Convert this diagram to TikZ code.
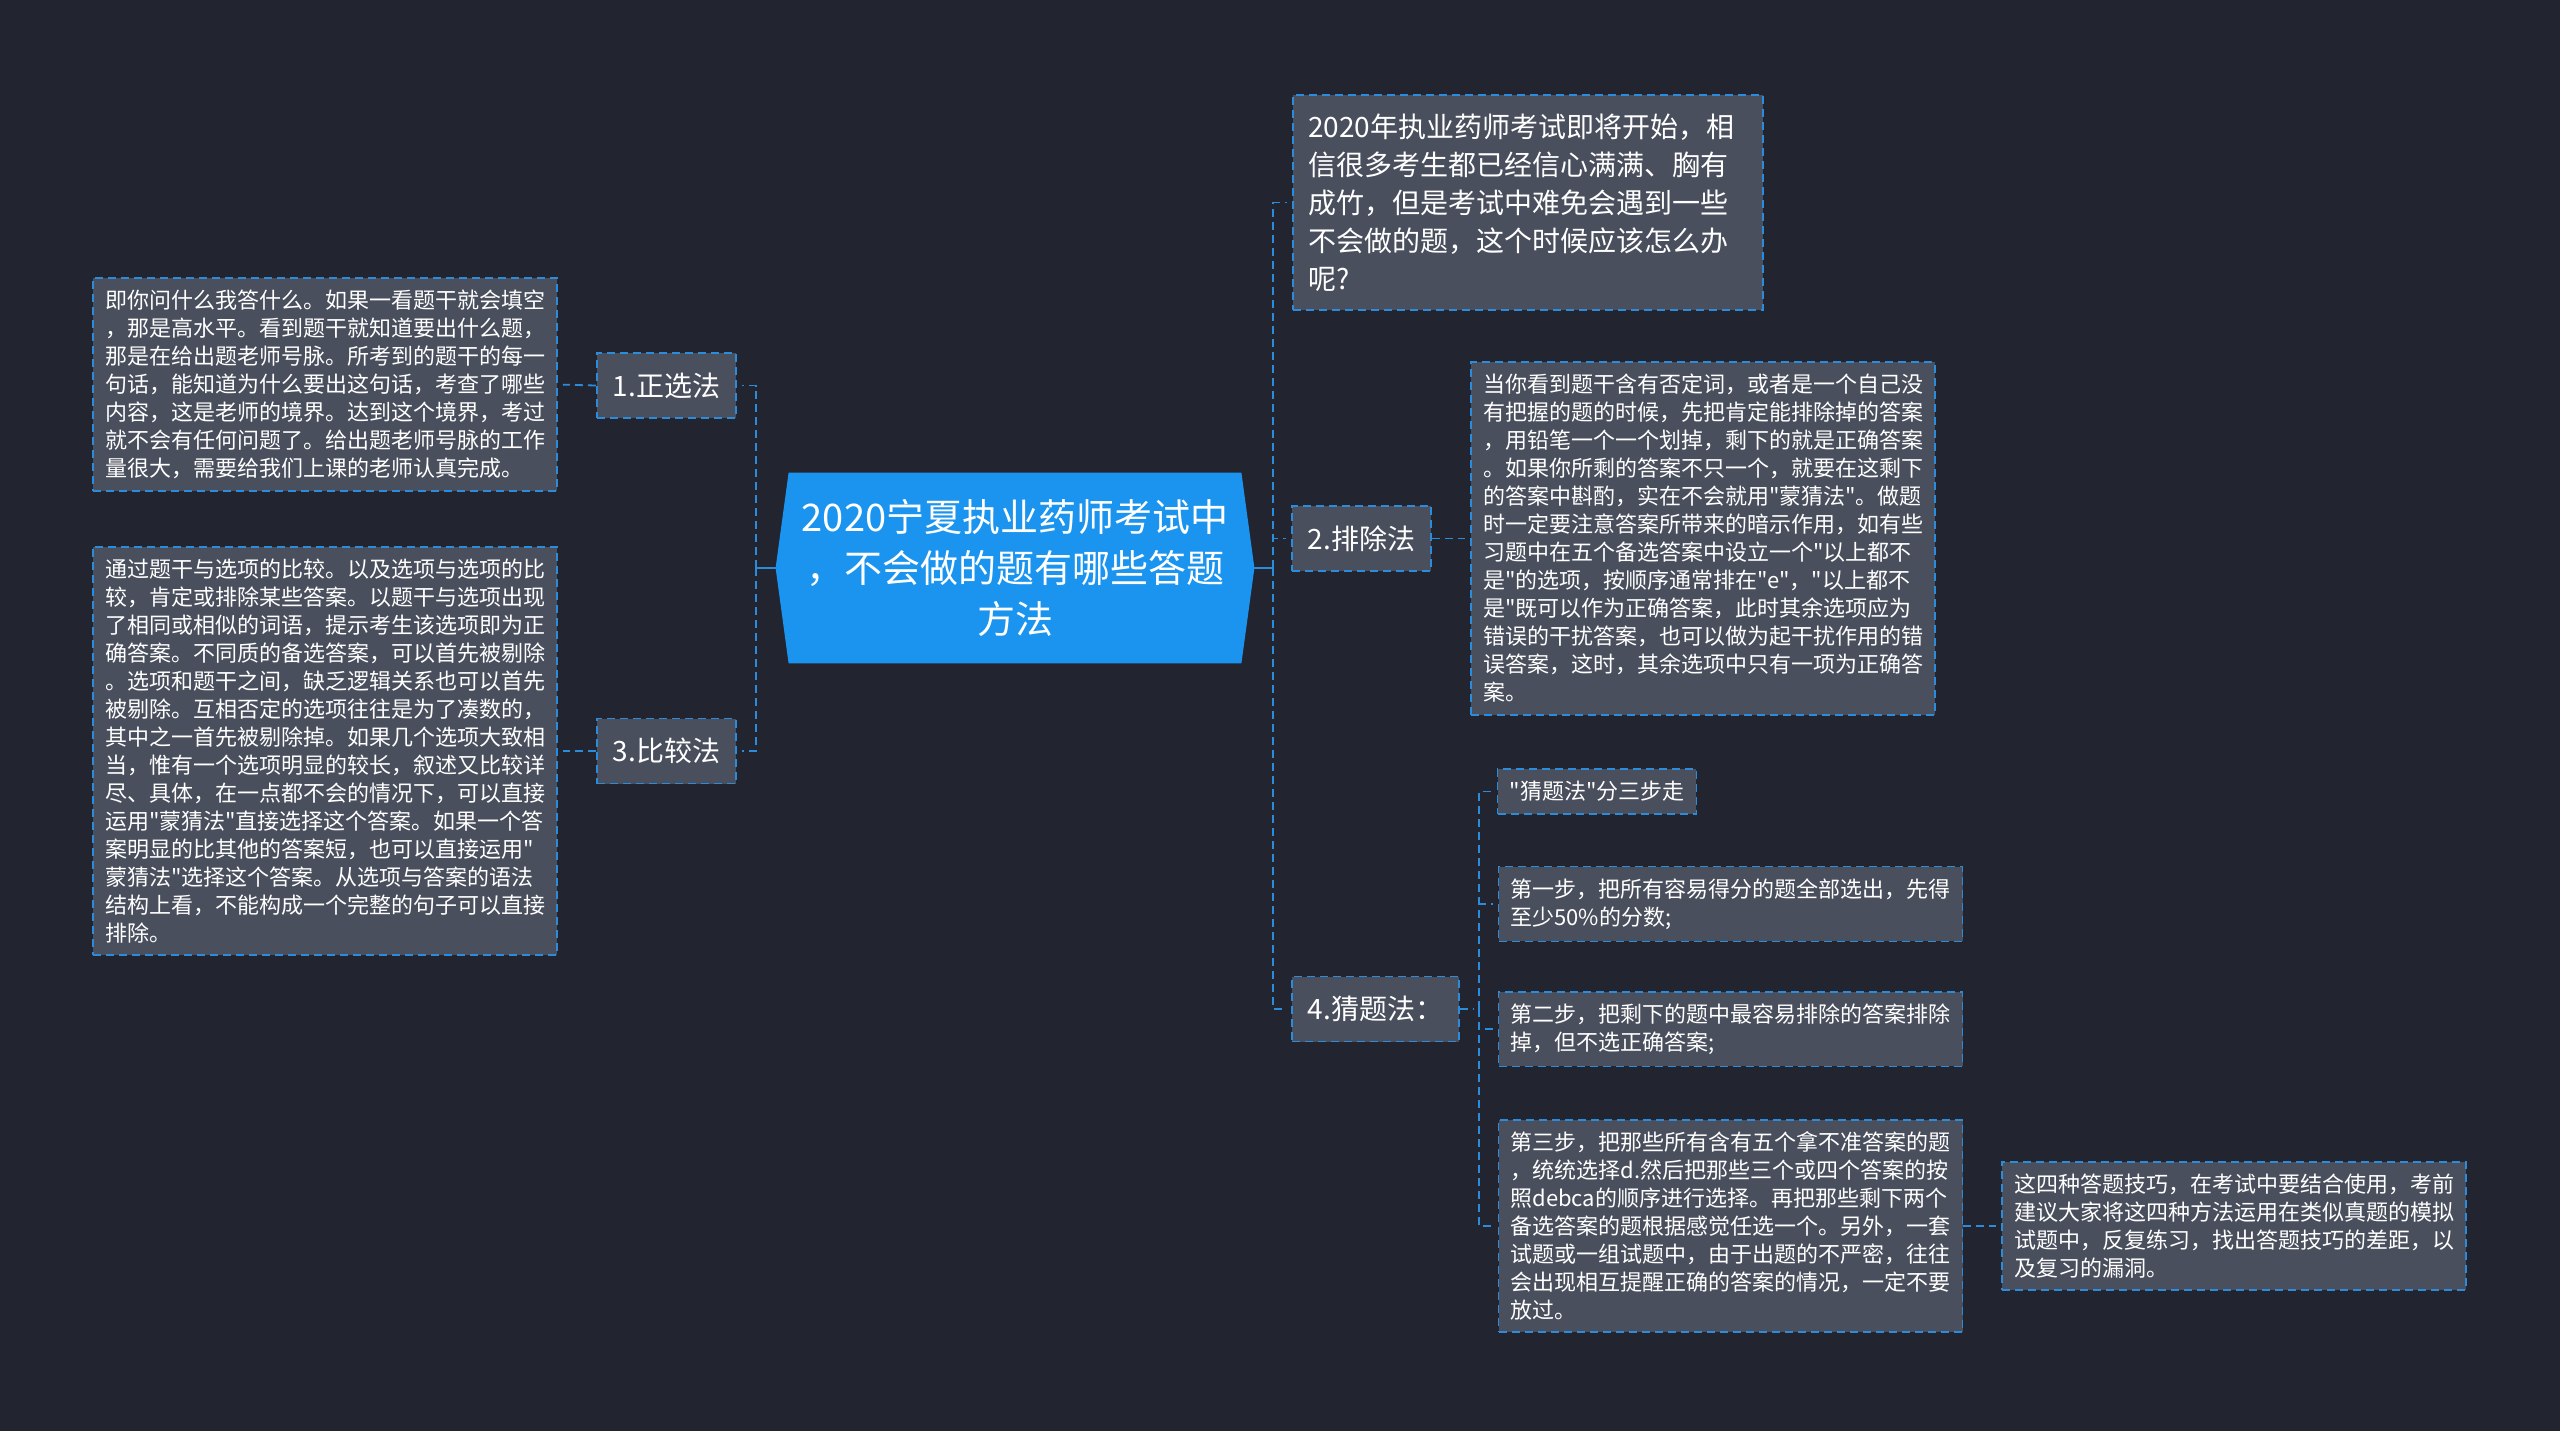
\documentclass[tikz,border=0pt]{standalone}
\usepackage{fontspec}
\setmainfont{Noto Sans CJK SC}[Ligatures=TeXOff]
\usepackage{xcolor}
\usepackage{tikz}
\usetikzlibrary{backgrounds}
\definecolor{canvas}{HTML}{22252F}
\definecolor{boxfill}{HTML}{4A4F5D}
\definecolor{edgeblue}{HTML}{2B8CDB}
\definecolor{rootblue}{HTML}{1A94EE}
\tikzset{
  card/.style={draw=edgeblue, fill=boxfill, dash pattern=on 4pt off 2.5pt,
               line width=0.9pt, text=white, align=left,
               inner xsep=6pt, inner ysep=6pt, font=\fontsize{11}{14}\selectfont},
  leaf/.style={card, text width=220pt},
  branch/.style={card, inner xsep=8pt, inner ysep=0pt, minimum height=32.5pt,
                 font=\fontsize{14}{17}\selectfont},
  topic/.style={text=white, align=center, minimum width=226pt, minimum height=95pt,
                inner sep=0pt, font=\fontsize{19}{25.5}\selectfont},
  link/.style={draw=edgeblue, line width=0.9pt, dash pattern=on 4pt off 2.5pt,
               shorten >=2.5pt},
  trunk/.style={draw=edgeblue, line width=1.2pt},
}

\begin{document}
\begin{tikzpicture}[x=0.5pt, y=-0.5pt]
  \useasboundingbox (0,0) rectangle (2560,1431);
  \begin{scope}[on background layer]
    \fill[canvas] (0,0) rectangle (2560,1431);
  \end{scope}
  % centre
  \node[topic] (root) at (1015,568) {2020宁夏执业药师考试中\\，不会做的题有哪些答题\\方法};
  % left side
  \node[branch] (zx) at (666.5,385.5) {1.正选法};
  \node[branch] (bj) at (666.5,751)   {3.比较法};
  \node[leaf] (zxtext) at (325,384.5) {即你问什么我答什么。如果一看题干就会填空\\，那是高水平。看到题干就知道要出什么题，\\那是在给出题老师号脉。所考到的题干的每一\\句话，能知道为什么要出这句话，考查了哪些\\内容，这是老师的境界。达到这个境界，考过\\就不会有任何问题了。给出题老师号脉的工作\\量很大，需要给我们上课的老师认真完成。};
  \node[leaf] (bjtext) at (325,751) {通过题干与选项的比较。以及选项与选项的比\\较，肯定或排除某些答案。以题干与选项出现\\了相同或相似的词语，提示考生该选项即为正\\确答案。不同质的备选答案，可以首先被剔除\\。选项和题干之间，缺乏逻辑关系也可以首先\\被剔除。互相否定的选项往往是为了凑数的，\\其中之一首先被剔除掉。如果几个选项大致相\\当，惟有一个选项明显的较长，叙述又比较详\\尽、具体，在一点都不会的情况下，可以直接\\运用"蒙猜法"直接选择这个答案。如果一个答\\案明显的比其他的答案短，也可以直接运用"\\蒙猜法"选择这个答案。从选项与答案的语法\\结构上看，不能构成一个完整的句子可以直接\\排除。};
  % right side
  \node[card, inner xsep=7.5pt, text width=220pt, minimum height=107.5pt,
        font=\fontsize{14}{19}\selectfont]
    (intro) at (1528,202.5) {2020年执业药师考试即将开始，相\\信很多考生都已经信心满满、胸有\\成竹，但是考试中难免会遇到一些\\不会做的题，这个时候应该怎么办\\呢?};
  \node[branch] (pc) at (1361.5,538.5) {2.排除法};
  \node[leaf] (pctext) at (1703,538.5) {当你看到题干含有否定词，或者是一个自己没\\有把握的题的时候，先把肯定能排除掉的答案\\，用铅笔一个一个划掉，剩下的就是正确答案\\。如果你所剩的答案不只一个，就要在这剩下\\的答案中斟酌，实在不会就用"蒙猜法"。做题\\时一定要注意答案所带来的暗示作用，如有些\\习题中在五个备选答案中设立一个"以上都不\\是"的选项，按顺序通常排在"e"，"以上都不\\是"既可以作为正确答案，此时其余选项应为\\错误的干扰答案，也可以做为起干扰作用的错\\误答案，这时，其余选项中只有一项为正确答\\案。};
  \node[branch] (ct) at (1375.5,1009) {4.猜题法：};
  \node[card] (step0) at (1597,791.5) {"猜题法"分三步走};
  \node[leaf] (step1) at (1730.5,904) {第一步，把所有容易得分的题全部选出，先得\\至少50\%的分数;};
  \node[leaf] (step2) at (1730.5,1029) {第二步，把剩下的题中最容易排除的答案排除\\掉，但不选正确答案;};
  \node[leaf] (step3) at (1730.5,1226) {第三步，把那些所有含有五个拿不准答案的题\\，统统选择d.然后把那些三个或四个答案的按\\照debca的顺序进行选择。再把那些剩下两个\\备选答案的题根据感觉任选一个。另外，一套\\试题或一组试题中，由于出题的不严密，往往\\会出现相互提醒正确的答案的情况，一定不要\\放过。};
  \node[leaf] (advice) at (2234,1226) {这四种答题技巧，在考试中要结合使用，考前\\建议大家将这四种方法运用在类似真题的模拟\\试题中，反复练习，找出答题技巧的差距，以\\及复习的漏洞。};
  % centre shape
  \coordinate (rootL) at ([xshift=-6.5pt]root.west);
  \coordinate (rootR) at ([xshift=6.5pt]root.east);
  \begin{scope}[on background layer]
    \fill[rootblue] (root.north west) -- (root.north east) -- (rootR)
      -- (root.south east) -- (root.south west) -- (rootL) -- cycle;
  \end{scope}
  % edges
  \coordinate (lspine) at (756,568);
  \coordinate (rspine) at (1273,568);
  \coordinate (cspine) at (1479,1009);
  \draw[trunk] (rootL) -- (lspine);
  \draw[trunk] (rootR) -- (rspine);
  \draw[link] (lspine) |- (zx.east);
  \draw[link] (lspine) |- (bj.east);
  \draw[link] (zx.west) -- (zxtext.east);
  \draw[link] (bj.west) -- (bjtext.east);
  \draw[link] (rspine) |- (intro.west);
  \draw[link] (rspine) |- (pc.west);
  \draw[link] (rspine) |- (ct.west);
  \draw[link] (pc.east) -- (pctext.west);
  \draw[link] (ct.east) -- (cspine);
  \draw[link] (cspine) |- (step0.west);
  \draw[link] (cspine) |- (step1.west);
  \draw[link] (cspine) |- (step2.west);
  \draw[link] (cspine) |- (step3.west);
  \draw[link] (step3.east) -- (advice.west);
\end{tikzpicture}
\end{document}
